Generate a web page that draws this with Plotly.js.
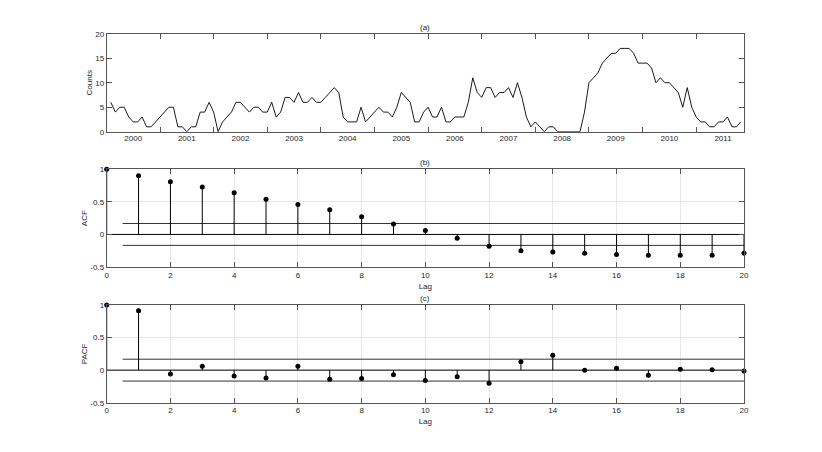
<!DOCTYPE html>
<html>
<head>
<meta charset="utf-8">
<script src="https://cdn.plot.ly/plotly-3.0.1.min.js"></script>
<style>
  html, body { margin: 0; padding: 0; background: #fff; }
  #chart { width: 822px; height: 452px; }
</style>
</head>
<body>
<div id="chart"></div>
<script>
// monthly counts, first value is Feb 2000
var counts = [6,4,5,5,3,2,2,3,1,1,2,3,
  4,5,5,1,1,0,1,1,4,4,6,4,
  0,2,3,4,6,6,5,4,5,5,4,4,
  6,3,4,7,7,6,8,6,6,7,6,6,
  7,8,9,8,3,2,2,2,5,2,3,4,
  5,4,4,3,5,8,7,6,2,2,4,5,
  3,3,5,2,2,3,3,3,6,11,8,7,
  9,9,7,8,8,9,7,10,7,3,1,2,
  1,0,1,1,0,0,0,0,0,0,4,10,
  11,12,14,15,16,16,17,17,17,16,14,14,
  14,13,10,11,10,10,9,8,5,9,5,3,
  2,2,1,1,2,2,3,1,1,2];
var firstMonth = 1;          // months after Jan 2000
var years = [2000,2001,2002,2003,2004,2005,2006,2007,2008,2009,2010,2011];

var lags = [0,1,2,3,4,5,6,7,8,9,10,11,12,13,14,15,16,17,18,19,20];
var acf = [1,0.90,0.81,0.73,0.64,0.54,0.46,0.38,0.27,0.16,0.06,
  -0.06,-0.18,-0.25,-0.27,-0.29,-0.31,-0.32,-0.32,-0.32,-0.29];
var pacf = [1,0.91,-0.06,0.06,-0.09,-0.12,0.06,-0.14,-0.13,-0.07,-0.16,
  -0.10,-0.20,0.13,0.23,0.00,0.03,-0.08,0.015,0.005,-0.015];
var bound = 0.168;
var boundStart = 0.5;
var panelTitles = ['(a)', '(b)', '(c)'];

var ink = '#262626';
var fnt = { family: 'Liberation Sans, Arial, sans-serif', size: 8, color: ink };

var months = counts.map(function (c, i) { return firstMonth + i; });
var yearEdges = years.slice(1).map(function (y) { return (y - years[0]) * 12; });
var yearMids = years.map(function (y) { return (y - years[0]) * 12 + 6; });

function stemXY(xs, ys) {
  var sx = [], sy = [];
  for (var i = 0; i < xs.length; i++) {
    sx.push(xs[i], xs[i], null);
    sy.push(0, ys[i], null);
  }
  return { x: sx, y: sy };
}

function corrTraces(vals, xa, ya) {
  var st = stemXY(lags, vals);
  var last = lags[lags.length - 1];
  return [
    { x: [boundStart, last], y: [bound, bound], xaxis: xa, yaxis: ya, mode: 'lines',
      line: { color: '#333', width: 1 }, hoverinfo: 'skip' },
    { x: [boundStart, last], y: [-bound, -bound], xaxis: xa, yaxis: ya, mode: 'lines',
      line: { color: '#333', width: 1 }, hoverinfo: 'skip' },
    { x: [lags[0], last], y: [0, 0], xaxis: xa, yaxis: ya, mode: 'lines',
      line: { color: '#000', width: 1 }, hoverinfo: 'skip' },
    { x: st.x, y: st.y, xaxis: xa, yaxis: ya, mode: 'lines',
      line: { color: '#000', width: 1 }, hoverinfo: 'skip' },
    { x: lags, y: vals, xaxis: xa, yaxis: ya, mode: 'markers', cliponaxis: false,
      marker: { color: '#000', size: 5 } }
  ];
}

var data = [
  { x: months, y: counts, xaxis: 'x', yaxis: 'y', mode: 'lines',
    line: { color: '#000', width: 0.9 } },
  // empty trace so the year-label axis gets drawn
  { x: [null], y: [null], xaxis: 'x4', yaxis: 'y', mode: 'lines', hoverinfo: 'skip' }
].concat(corrTraces(acf, 'x2', 'y2'), corrTraces(pacf, 'x3', 'y3'));

var xd = [0.1298, 0.9051];
var dom = [[0.7086, 0.9254], [0.4093, 0.6254], [0.1091, 0.3252]];
var topRange = [0.07, 142.7];

function boxAxis(extra) {
  var a = {
    showline: true, linecolor: '#555', linewidth: 1, mirror: 'ticks',
    ticks: 'inside', ticklen: 5, tickcolor: '#555', tickwidth: 1,
    zeroline: false, tickfont: fnt, automargin: false, fixedrange: true
  };
  for (var k in extra) a[k] = extra[k];
  return a;
}

var lagX = function (anchor) {
  return boxAxis({
    domain: xd, anchor: anchor, range: [0, 20], tickvals: [0,2,4,6,8,10,12,14,16,18,20],
    showgrid: true, gridcolor: '#e8e8e8', gridwidth: 1,
    title: { text: 'Lag', font: fnt, standoff: 4 }
  });
};
var corrY = function (anchor, label, d) {
  return boxAxis({
    domain: d, anchor: anchor, range: [-0.5, 1], tickvals: [-0.5, 0, 0.5, 1],
    ticktext: ['-0.5', '0', '0.5', '1'],
    showgrid: true, gridcolor: '#e8e8e8', gridwidth: 1,
    title: { text: label, font: fnt, standoff: 1 }
  });
};

var layout = {
  width: 822, height: 452,
  margin: { l: 0, r: 0, t: 0, b: 0 },
  paper_bgcolor: '#fff', plot_bgcolor: '#fff',
  showlegend: false,
  font: fnt,
  xaxis: boxAxis({ domain: xd, anchor: 'y', range: topRange,
    tickvals: yearEdges, showticklabels: false, showgrid: false }),
  xaxis4: { overlaying: 'x', anchor: 'y', side: 'bottom', range: topRange,
    tickvals: yearMids, ticktext: years.map(String), ticks: '', showline: false,
    showgrid: false, zeroline: false, tickfont: fnt, automargin: false, fixedrange: true },
  yaxis: boxAxis({ domain: dom[0], anchor: 'x', range: [0, 20], tickvals: [0, 5, 10, 15, 20],
    showgrid: false, title: { text: 'Counts', font: fnt, standoff: 1 } }),
  xaxis2: lagX('y2'),
  yaxis2: corrY('x2', 'ACF', dom[1]),
  xaxis3: lagX('y3'),
  yaxis3: corrY('x3', 'PACF', dom[2]),
  annotations: panelTitles.map(function (t, i) {
    return { text: t, xref: 'paper', yref: 'paper', x: (xd[0] + xd[1]) / 2, y: dom[i][1],
      yshift: 0, xanchor: 'center', yanchor: 'bottom', showarrow: false, font: fnt };
  })
};

Plotly.newPlot('chart', data, layout, { displayModeBar: false, staticPlot: true });
</script>
</body>
</html>
